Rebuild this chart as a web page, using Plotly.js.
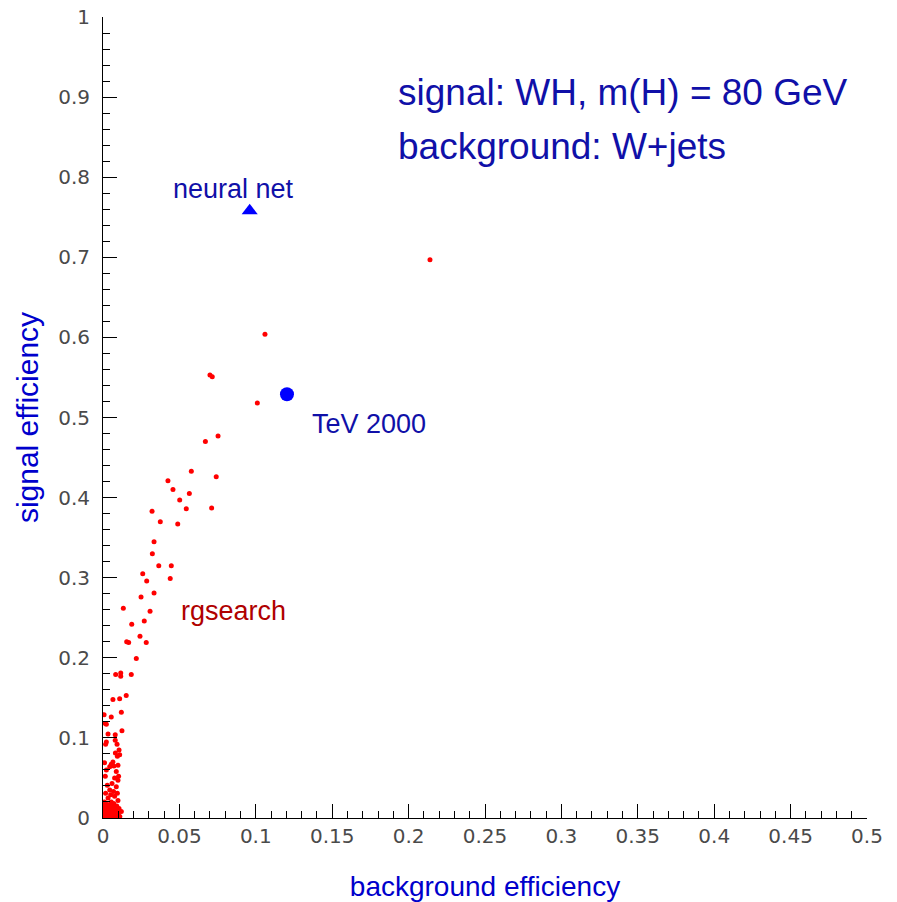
<!DOCTYPE html>
<html>
<head>
<meta charset="utf-8">
<script src="https://cdn.plot.ly/plotly-3.0.1.min.js"></script>
<style>html,body{margin:0;padding:0;background:#fff;}#chart{width:897px;height:902px;}</style>
</head>
<body>
<div id="chart"></div>
<script>
// rgsearch cut points: background efficiency (x) vs signal efficiency (y)
const rgsX = [0.214, 0.106, 0.070, 0.0715, 0.101, 0.0753, 0.067,
  0.0578, 0.0741, 0.0425, 0.0458, 0.0565, 0.0502, 0.0321, 0.0545, 0.0711, 0.0375, 0.0489, 0.0334,
  0.0323, 0.0365, 0.0447, 0.0260, 0.0286, 0.0440, 0.0249, 0.0334, 0.0133, 0.0308, 0.0188, 0.0270,
  0.0242, 0.0155, 0.0168, 0.0283, 0.0218,
  0.0083, 0.0116, 0.0116, 0.0185, 0.0065, 0.0109, 0.0152, 0.0120, 0.0007, 0.0054, 0.0015, 0.0022,
  0.0124, 0.0033, 0.0080, 0.0080, 0.0022,
  0.0092, 0.0017, 0.0105, 0.0081, 0.0109, 0.0094, 0.0010, 0.0065, 0.0054, 0.0071, 0.0098, 0.0044,
  0.0022, 0.0087, 0.0102, 0.0015, 0.0076, 0.0098, 0.0059, 0.0028, 0.0087, 0.0044, 0.0069, 0.0094,
  0.0017, 0.0050, 0.0076, 0.0033, 0.0098, 0.0010, 0.0054,
  0.0010, 0.0030, 0.0050, 0.0070, 0.0090, 0.0015, 0.0040, 0.0060, 0.0080, 0.0105,
  0.0010, 0.0030, 0.0050, 0.0070, 0.0090, 0.0120, 0.0020, 0.0040, 0.0060, 0.0080, 0.0100,
  0.0010, 0.0030, 0.0050, 0.0070, 0.0090, 0.0110, 0.0005, 0.0020, 0.0040, 0.0060, 0.0080, 0.0100,
  0.0005, 0.0025, 0.0065, 0.0085, 0.0035, 0.0075, 0.0012];
const rgsY = [0.697, 0.604, 0.553, 0.551, 0.518, 0.477, 0.470,
  0.433, 0.426, 0.421, 0.410, 0.405, 0.397, 0.383, 0.386, 0.387, 0.370, 0.367, 0.345,
  0.330, 0.315, 0.315, 0.305, 0.296, 0.299, 0.276, 0.281, 0.262, 0.258, 0.242, 0.246,
  0.227, 0.220, 0.219, 0.219, 0.199,
  0.179, 0.181, 0.177, 0.179, 0.148, 0.149, 0.153, 0.132, 0.129, 0.126, 0.118, 0.117,
  0.109, 0.105, 0.104, 0.097, 0.095,
  0.092, 0.092, 0.085, 0.081, 0.079, 0.077, 0.069, 0.070, 0.067, 0.065, 0.066, 0.064,
  0.060, 0.058, 0.052, 0.052, 0.050, 0.047, 0.043, 0.041, 0.039, 0.035, 0.033, 0.031,
  0.031, 0.029, 0.027, 0.025, 0.022, 0.020, 0.020,
  0.018, 0.017, 0.016, 0.018, 0.015, 0.014, 0.013, 0.012, 0.011, 0.012,
  0.010, 0.009, 0.010, 0.008, 0.009, 0.008, 0.007, 0.006, 0.005, 0.006, 0.005,
  0.004, 0.003, 0.003, 0.002, 0.003, 0.002, 0.001, 0.001, 0.0005, 0.001, 0.0005, 0.001,
  0.006, 0.012, 0.0145, 0.0135, 0.015, 0.004, 0.008];

const nnX = [0.096];
const nnY = [0.758];
const tevX = [0.1204];
const tevY = [0.529];

const xTitle = "background efficiency";
const yTitle = "signal efficiency";
const labelLine1 = "signal: WH, m(H) = 80 GeV";
const labelLine2 = "background: W+jets";

const font = "Liberation Sans, Arial, Helvetica, sans-serif";
const tickFont = "DejaVu Sans, Verdana, sans-serif";
const annBlue = "#1010a8";

const data = [
  {x: rgsX, y: rgsY, type: "scatter", mode: "markers", name: "rgsearch",
   marker: {color: "#ff0000", size: 5}, hoverinfo: "x+y"},
  {x: tevX, y: tevY, type: "scatter", mode: "markers", name: "TeV 2000",
   marker: {color: "#0000ff", size: 14, symbol: "circle"}},
  {x: nnX, y: nnY, type: "scatter", mode: "markers", name: "neural net",
   marker: {color: "#0000ff", size: 14, symbol: "triangle-up"}}
];

const axisCommon = {
  showline: true, linecolor: "#000", linewidth: 1, mirror: false,
  showgrid: false, zeroline: false,
  ticks: "inside", ticklen: 14, tickcolor: "#000", tickwidth: 1,
  tickfont: {family: tickFont, size: 20, color: "#4a4a4a"}
};

const layout = {
  width: 897, height: 902,
  margin: {l: 103, r: 30, t: 17, b: 84},
  paper_bgcolor: "#fff", plot_bgcolor: "#fff",
  showlegend: false,
  font: {family: font},
  xaxis: Object.assign({}, axisCommon, {
    range: [0, 0.5], dtick: 0.05, tick0: 0,
    minor: {dtick: 0.01, ticks: "inside", ticklen: 7, tickcolor: "#000", showgrid: false},
    title: {text: xTitle, font: {family: font, size: 28, color: "#0000cc"}, standoff: 34}
  }),
  yaxis: Object.assign({}, axisCommon, {
    range: [0, 1], dtick: 0.1, tick0: 0, ticklabelstandoff: 8,
    minor: {dtick: 0.02, ticks: "inside", ticklen: 7, tickcolor: "#000", showgrid: false},
    title: {text: yTitle, font: {family: font, size: 30, color: "#0000cc"}, standoff: 10}
  }),
  annotations: [
    {x: 0.1918, y: 0.906, xref: "x", yref: "y", text: labelLine1, showarrow: false,
     xanchor: "left", yanchor: "middle", font: {family: font, size: 37, color: annBlue}},
    {x: 0.1918, y: 0.838, xref: "x", yref: "y", text: labelLine2, showarrow: false,
     xanchor: "left", yanchor: "middle", font: {family: font, size: 37, color: annBlue}},
    {x: 0.0445, y: 0.785, xref: "x", yref: "y", text: "neural net", showarrow: false,
     xanchor: "left", yanchor: "middle", font: {family: font, size: 27, color: annBlue}},
    {x: 0.1355, y: 0.492, xref: "x", yref: "y", text: "TeV 2000", showarrow: false,
     xanchor: "left", yanchor: "middle", font: {family: font, size: 27, color: annBlue}},
    {x: 0.0497, y: 0.258, xref: "x", yref: "y", text: "rgsearch", showarrow: false,
     xanchor: "left", yanchor: "middle", font: {family: font, size: 27, color: "#b00000"}}
  ]
};

Plotly.newPlot("chart", data, layout, {displayModeBar: false, staticPlot: true});
</script>
</body>
</html>
